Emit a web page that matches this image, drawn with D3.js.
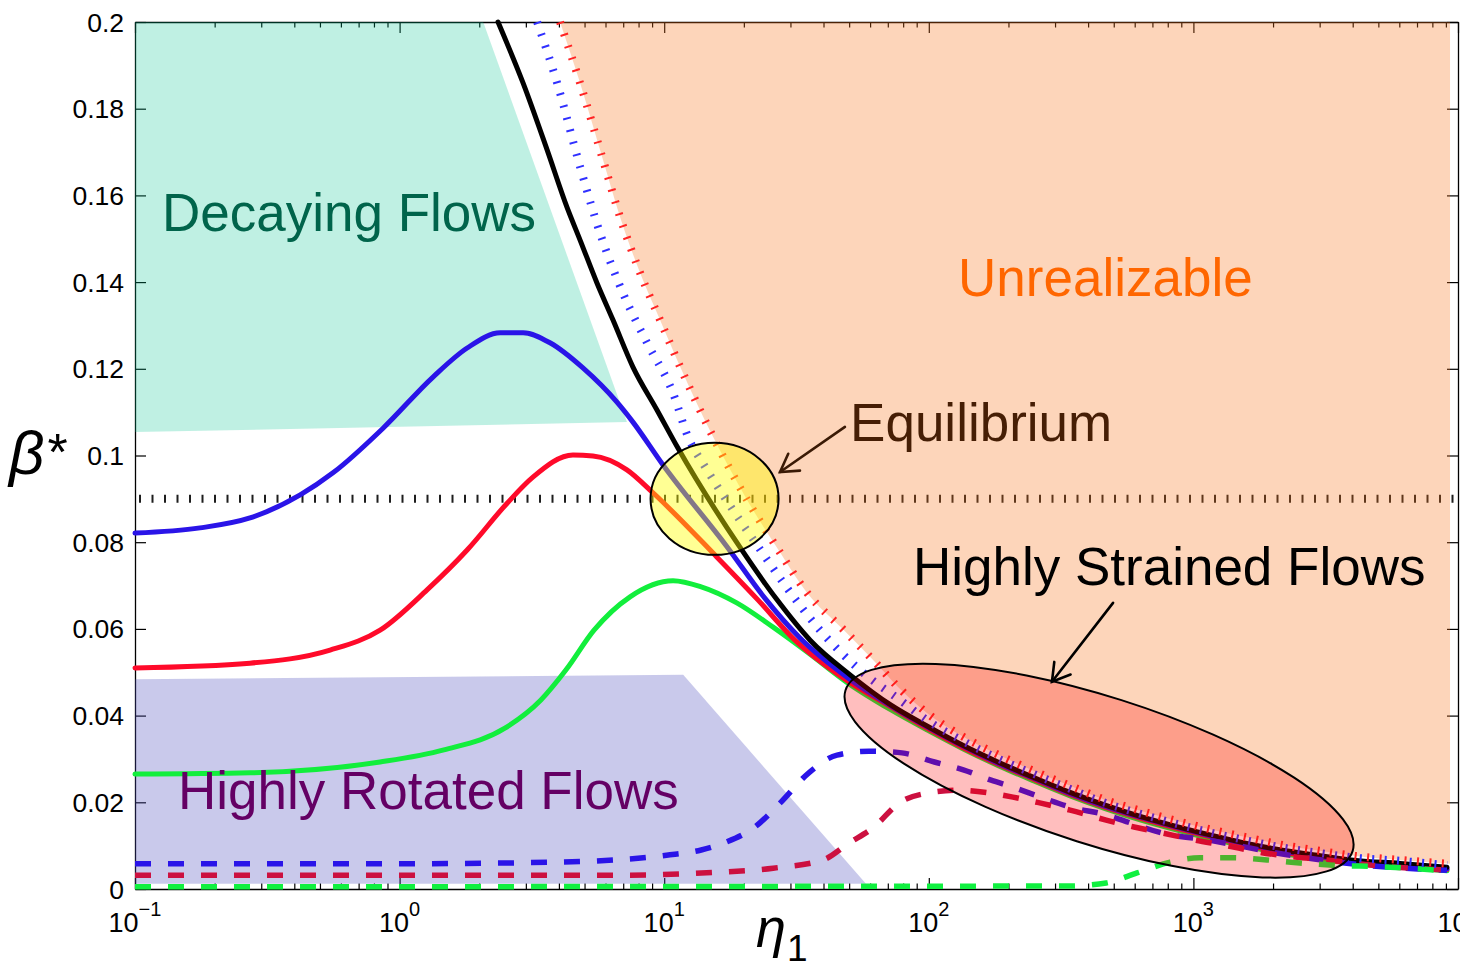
<!DOCTYPE html>
<html>
<head>
<meta charset="utf-8">
<title>β* versus η1</title>
<script src="https://cdn.jsdelivr.net/npm/d3@7/dist/d3.min.js"></script>
<style>
  html, body { margin: 0; padding: 0; background: #ffffff; }
  svg { display: block; }
  text { font-family: "Liberation Sans", Arial, Helvetica, sans-serif; }
</style>
</head>
<body>
<svg id="chart" width="1460" height="969"></svg>
<script>
// ---------- series: [eta1, betaStar] pairs ----------
const blackSolid = [[2.355,0.2],[2.93,0.1859],[3.61,0.1705],[4.29,0.1573],[4.81,0.1497],[5.57,0.1398],[6.40,0.1313],[7.62,0.1204],[9.39,0.1105],[11.2,0.1020],[19.3,0.0789],[26.7,0.0667],[35.6,0.0574],[50.4,0.0494],[72,0.0424],[98.4,0.0376],[135,0.0331],[184,0.0292],[250,0.0257],[342,0.0223],[467,0.0193],[634,0.0167],[867,0.0144],[1186,0.0123],[1622,0.0104],[2200,0.0089],[3010,0.0077],[4117,0.0066],[6037,0.0059],[9088,0.0050]];

const blueSolid = [[0.1,0.0821],[0.176,0.0833],[0.272,0.0856],[0.421,0.0909],[0.56,0.0960],[0.866,0.1063],[1.337,0.1181],[1.8,0.1248],[2.4,0.1283],[2.93,0.1283],[3.7,0.1260],[4.93,0.1202],[6.63,0.1123],[7.62,0.1077],[9.9,0.0978],[17.3,0.0789],[24.0,0.0671],[32.6,0.0579],[49.5,0.0487],[72,0.0422],[98.4,0.0374],[135,0.0329],[184,0.0289],[250,0.0255],[342,0.0220],[467,0.0190],[634,0.0165],[867,0.0142],[1186,0.0121],[1622,0.0103],[2200,0.0087],[3010,0.0075],[4117,0.0063],[6037,0.0057],[9088,0.0047]];

const redSolid = [[0.1,0.0510],[0.272,0.0521],[0.546,0.0551],[0.844,0.0597],[1.27,0.0690],[1.8,0.0782],[2.55,0.0890],[3.19,0.0950],[4.52,0.1001],[5.38,0.0999],[7.23,0.0967],[9.07,0.0914],[15.8,0.0766],[22.6,0.0667],[31.2,0.0574],[48.2,0.0484],[72,0.0420],[98.4,0.0371],[135,0.0326],[184,0.0287],[250,0.0253],[342,0.0218],[467,0.0188],[634,0.0163],[867,0.0140],[1186,0.0119],[1622,0.0100],[2200,0.0084],[3010,0.0073],[4117,0.0061],[6037,0.0054],[9088,0.0045]];

const greenSolid = [[0.1,0.0265],[0.272,0.0268],[0.844,0.0293],[1.47,0.0321],[2.50,0.0371],[3.42,0.0436],[4.25,0.0505],[5.43,0.0597],[7.43,0.0674],[10.8,0.0711],[13.8,0.0697],[18.8,0.0660],[25.8,0.0604],[35.2,0.0544],[49.5,0.0475],[72,0.0413],[98.4,0.0367],[135,0.0323],[184,0.0284],[250,0.0249],[342,0.0215],[467,0.0185],[634,0.0159],[867,0.0136],[1186,0.0115],[1622,0.0097],[2200,0.0081],[3010,0.0069],[4117,0.0058],[6037,0.0051],[9088,0.0042]];

const blueDashed = [[0.1,0.0058],[0.844,0.0058],[4.0,0.0062],[10.2,0.0078],[13.8,0.0090],[17.1,0.0108],[22.0,0.0143],[27.4,0.0198],[35.2,0.0268],[45.0,0.0309],[59.4,0.0318],[79.2,0.0314],[105,0.0293],[135,0.0275],[172,0.0251],[208,0.0235],[265,0.0212],[342,0.0189],[468,0.0171],[581,0.0152],[741,0.0131],[1186,0.0111],[2200,0.0080],[4117,0.0057],[9088,0.0043]];

const redDashed = [[0.1,0.0032],[7.43,0.0032],[13.8,0.0037],[25.8,0.0048],[39.8,0.0067],[49.9,0.0106],[62.1,0.0143],[77.1,0.0198],[98.4,0.0221],[130,0.0228],[172,0.0221],[208,0.0212],[265,0.0198],[342,0.0182],[468,0.0159],[597,0.0143],[768,0.0129],[1014,0.0113],[1306,0.0101],[1771,0.0085],[2421,0.0074],[3200,0.0067],[5070,0.0053],[9088,0.0044]];

const greenDashed = [[0.1,0.0005],[342,0.0007],[468,0.0014],[612,0.0037],[817,0.0062],[1059,0.0072],[1413,0.0072],[1897,0.0067],[2529,0.0060],[3373,0.0055],[5212,0.0051],[9088,0.0042]];

const blueDotted = [[3.31,0.2],[3.94,0.1859],[4.81,0.1666],[5.72,0.1513],[6.98,0.1375],[8.61,0.1260],[10.8,0.1144],[12.3,0.1043],[14.3,0.0973],[18.2,0.0874],[22.4,0.0794],[28.6,0.0701],[38.8,0.0597],[55.9,0.0501],[77.8,0.0436],[101,0.0385],[135,0.0341],[184,0.0300],[250,0.0265],[342,0.0231],[467,0.0198],[634,0.0173],[867,0.0150],[1186,0.0129],[1622,0.0111],[2200,0.0095],[3010,0.0083],[4117,0.0072],[6037,0.0065],[9088,0.0055]];

const redDotted = [[4.04,0.2],[4.81,0.1859],[5.87,0.1682],[6.81,0.1550],[8.11,0.1421],[9.64,0.1313],[11.5,0.1204],[15.3,0.1043],[20.6,0.0897],[26.7,0.0787],[34.7,0.0683],[47.8,0.0597],[61.6,0.0528],[76.5,0.0466],[98.4,0.0406],[135,0.0351],[184,0.0309],[250,0.0272],[342,0.0238],[467,0.0205],[634,0.0180],[867,0.0157],[1186,0.0136],[1622,0.0118],[2200,0.0101],[3010,0.0088],[4117,0.0076],[6037,0.0067],[9330,0.0058]];

// shaded regions
const decayingRegion = [[0.1,0.2],[2.07,0.2],[7.23,0.1077],[0.1,0.1054]];
const rotatedRegion = [[0.1,0.0484],[11.8,0.0494],[57.9,0.0012],[0.1,0.0012]];
const unrealizableEdge = 9330;   // right-hand limit of the unrealizable patch
const equilibriumLevel = 0.09;

// axis ticks
const xTickExponents = [-1, 0, 1, 2, 3, 4];
const yTickValues = [0, 0.02, 0.04, 0.06, 0.08, 0.1, 0.12, 0.14, 0.16, 0.18, 0.2];
const yTickLabels = ["0", "0.02", "0.04", "0.06", "0.08", "0.1", "0.12", "0.14", "0.16", "0.18", "0.2"];

// annotations (positions in eta1 / betaStar units)
const equilibriumCenter = [15.5, 0.09];
const strainedCenter = [440, 0.0273];
const equilibriumArrow = [[48.2, 0.1066], [27.4, 0.0962]];
const strainedArrow = [[497, 0.0660], [292, 0.0478]];
const regionLabels = [
  { text: "Decaying Flows",        at: [0.1265, 0.1518], color: "#00644b" },
  { text: "Unrealizable",          at: [129, 0.1368],    color: "#ff6600" },
  { text: "Equilibrium",           at: [50.4, 0.1033],   color: "#461e05" },
  { text: "Highly Strained Flows", at: [87.1, 0.0701],   color: "#000000" },
  { text: "Highly Rotated Flows",  at: [0.1454, 0.0185], color: "#640064" }
];

// ---------- scales ----------
const svg = d3.select("#chart");
const x = d3.scaleLog().domain([0.1, 1e4]).range([135, 1458]);
const y = d3.scaleLinear().domain([0, 0.2]).range([889, 22]);
const [x0, x1] = x.range();
const [yb, yt] = y.range();

const line = d3.line().x(d => x(d[0])).y(d => y(d[1])).curve(d3.curveMonotoneX);
const poly = d3.line().x(d => x(d[0])).y(d => y(d[1]));

// ---------- axes box with inward ticks ----------
const majorX = xTickExponents.map(e => Math.pow(10, e));
const minorX = [];
xTickExponents.slice(0, -1).forEach(e => {
  for (let m = 2; m <= 9; m++) minorX.push(m * Math.pow(10, e));
});

const axes = svg.append("g").attr("class", "axes");
function styleAxis(g) {
  g.select(".domain").attr("stroke", "#000").attr("stroke-width", 1.3);
  g.selectAll(".tick line").attr("stroke", "#000").attr("stroke-width", 1.2);
  g.selectAll(".tick text").remove();
}
axes.append("g").attr("transform", `translate(0,${yb})`)
  .call(d3.axisBottom(x).tickValues(majorX).tickSize(-11).tickSizeOuter(0).tickFormat(""))
  .call(styleAxis);
axes.append("g").attr("transform", `translate(0,${yb})`)
  .call(d3.axisBottom(x).tickValues(minorX).tickSize(-5.5).tickSizeOuter(0).tickFormat(""))
  .call(styleAxis).call(g => g.select(".domain").remove());
axes.append("g").attr("transform", `translate(0,${yt})`)
  .call(d3.axisTop(x).tickValues(majorX).tickSize(-11).tickSizeOuter(0).tickFormat(""))
  .call(styleAxis);
axes.append("g").attr("transform", `translate(0,${yt})`)
  .call(d3.axisTop(x).tickValues(minorX).tickSize(-5.5).tickSizeOuter(0).tickFormat(""))
  .call(styleAxis).call(g => g.select(".domain").remove());
axes.append("g").attr("transform", `translate(${x0},0)`)
  .call(d3.axisLeft(y).tickValues(yTickValues).tickSize(-11).tickSizeOuter(0).tickFormat(""))
  .call(styleAxis);
axes.append("g").attr("transform", `translate(${x1},0)`)
  .call(d3.axisRight(y).tickValues(yTickValues).tickSize(-11).tickSizeOuter(0).tickFormat(""))
  .call(styleAxis);

// ---------- equilibrium level (dotted) ----------
svg.append("line")
  .attr("x1", x(0.1) + 4).attr("x2", x(1e4) - 4)
  .attr("y1", y(equilibriumLevel)).attr("y2", y(equilibriumLevel))
  .attr("stroke", "#1e1e1e").attr("stroke-width", 8)
  .attr("stroke-dasharray", "2,10.5");

// ---------- shaded regimes ----------
svg.append("path").attr("d", poly(decayingRegion) + "Z")
  .attr("fill", "rgb(0,195,143)").attr("fill-opacity", 0.25);
svg.append("path").attr("d", poly(rotatedRegion) + "Z")
  .attr("fill", "rgb(75,75,188)").attr("fill-opacity", 0.3);
const lastRed = redDotted[redDotted.length - 1];
svg.append("path")
  .attr("d", line(redDotted) +
    `L${x(unrealizableEdge)},${y(lastRed[1])}L${x(unrealizableEdge)},${y(0.2)}Z`)
  .attr("fill", "rgb(248,115,28)").attr("fill-opacity", 0.3);

// ---------- curves ----------
const curves = svg.append("g").attr("fill", "none");
function draw(data, color, width, dash, cap) {
  curves.append("path").attr("d", line(data))
    .attr("stroke", color).attr("stroke-width", width)
    .attr("stroke-dasharray", dash || null)
    .attr("stroke-linecap", cap || "butt")
    .attr("stroke-linejoin", "round");
}
draw(greenSolid, "#12ee3c", 5, null, "round");
draw(redSolid,   "#ff0a2a", 5, null, "round");
draw(blueSolid,  "#2a14e8", 5, null, "round");
draw(blackSolid, "#000000", 5, null, "round");
draw(blueDashed,  "#2a14e8", 5.5, "16,17");
draw(redDashed,   "#cc1040", 5.5, "16,17");
draw(greenDashed, "#10f040", 5.5, "16,17");
draw(blueDotted, "#3030ff", 8, "2,10.5");
draw(redDotted,  "#ff2424", 8, "2,10.5");

// ---------- highlighted zones ----------
svg.append("ellipse")
  .attr("cx", x(equilibriumCenter[0])).attr("cy", y(equilibriumCenter[1]))
  .attr("rx", 64).attr("ry", 56)
  .attr("fill", "rgb(255,255,0)").attr("fill-opacity", 0.42)
  .attr("stroke", "#000").attr("stroke-width", 2);
const sx = x(strainedCenter[0]), sy = y(strainedCenter[1]);
svg.append("ellipse")
  .attr("cx", sx).attr("cy", sy).attr("rx", 266).attr("ry", 74)
  .attr("transform", `rotate(17.6,${sx},${sy})`)
  .attr("fill", "rgb(255,0,0)").attr("fill-opacity", 0.255)
  .attr("stroke", "#000").attr("stroke-width", 2);

// ---------- arrows ----------
function arrow(pts, color) {
  const [ax, ay] = [x(pts[0][0]), y(pts[0][1])];
  const [bx, by] = [x(pts[1][0]), y(pts[1][1])];
  const g = svg.append("g").attr("stroke", color).attr("stroke-width", 2.6)
    .attr("fill", "none").attr("stroke-linecap", "round");
  g.append("line").attr("x1", ax).attr("y1", ay).attr("x2", bx).attr("y2", by);
  const back = Math.atan2(ay - by, ax - bx);
  const len = 20, spread = 31 * Math.PI / 180;
  const w1 = [bx + len * Math.cos(back - spread), by + len * Math.sin(back - spread)];
  const w2 = [bx + len * Math.cos(back + spread), by + len * Math.sin(back + spread)];
  g.append("path").attr("d", `M${w1[0]},${w1[1]}L${bx},${by}L${w2[0]},${w2[1]}`)
    .attr("stroke-linejoin", "miter");
}
arrow(equilibriumArrow, "#3a1a05");
arrow(strainedArrow, "#000000");

// ---------- regime labels ----------
svg.append("g").selectAll("text").data(regionLabels).join("text")
  .attr("x", d => x(d.at[0])).attr("y", d => y(d.at[1]))
  .attr("fill", d => d.color)
  .attr("font-size", 53)
  .text(d => d.text);

// ---------- tick labels ----------
svg.append("g").selectAll("text").data(yTickValues).join("text")
  .attr("x", x0 - 11).attr("y", d => y(d))
  .attr("dy", "0.36em")
  .attr("text-anchor", "end").attr("font-size", 26.5).attr("fill", "#000")
  .text((d, i) => yTickLabels[i]);

const xl = svg.append("g").selectAll("text").data(xTickExponents).join("text")
  .attr("x", d => x(Math.pow(10, d))).attr("y", 932)
  .attr("text-anchor", "middle").attr("font-size", 27).attr("fill", "#000");
xl.append("tspan").text("10");
xl.append("tspan").attr("dy", -16).attr("font-size", 20)
  .text(d => d < 0 ? "\u2212" + Math.abs(d) : String(d));

// ---------- axis titles ----------
const yTitle = svg.append("text").attr("x", 9).attr("y", 474)
  .attr("font-family", "'Liberation Serif', 'DejaVu Serif', serif").attr("fill", "#000");
yTitle.append("tspan").attr("font-style", "italic").attr("font-size", 62).text("β");
yTitle.append("tspan").attr("font-size", 52).attr("dx", 3).attr("dy", -4).text("*");

const xTitle = svg.append("text").attr("x", 756).attr("y", 947)
  .attr("font-family", "'Liberation Serif', 'DejaVu Serif', serif").attr("fill", "#000");
xTitle.append("tspan").attr("font-style", "italic").attr("font-size", 54).text("η");
xTitle.append("tspan").attr("font-size", 37).attr("dx", 1).attr("dy", 14).text("1");
</script>
</body>
</html>
